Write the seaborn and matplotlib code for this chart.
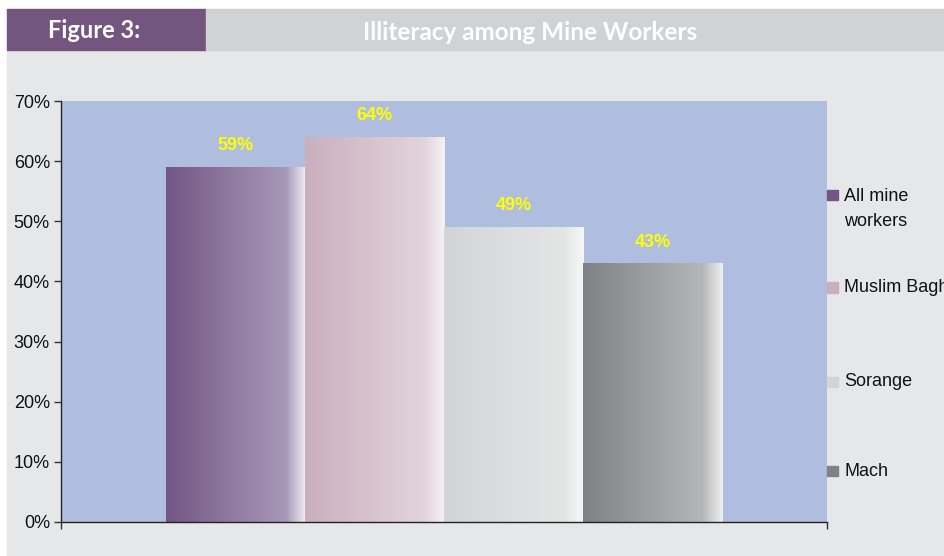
import matplotlib
matplotlib.use('Agg')
import matplotlib.pyplot as plt
from matplotlib.patches import Rectangle
from matplotlib.colors import LinearSegmentedColormap
import numpy as np
import pandas as pd
import seaborn as sns

# data
groups = ['All mine\nworkers', 'Muslim Bagh', 'Sorange', 'Mach']
values = [59, 64, 49, 43]
base_colors = ['#735685', '#CAAFBE', '#D3D4D6', '#808184']
mid_colors = ['#A898B8', '#E2D4DB', '#E4E6E6', '#B6B7B9']
end_colors = ['#F0EEF4', '#F7F3F5', '#F6F7F7', '#F0F0F0']
yticks = [0, 10, 20, 30, 40, 50, 60, 70]

df = pd.DataFrame({'grp': ['x'] * len(groups), 'cat': groups, 'val': values})

sns.set_style('white')
plt.rcParams['font.family'] = ['Liberation Sans', 'DejaVu Sans']

W, H = 945, 556
fig = plt.figure(figsize=(W / 100, H / 100), dpi=100)
fig.patch.set_facecolor('white')

def px(x0, y0, x1, y1, color):
    fig.patches.append(Rectangle((x0 / W, 1 - y1 / H), (x1 - x0) / W, (y1 - y0) / H,
                                 transform=fig.transFigure, color=color, zorder=-10))

# page background and header band
px(7, 50, W, H, '#E6E7E9')
px(7, 9, 206, 50, '#735580')
px(206, 9, W, 50, '#D1D2D4')
fig.text(94 / W, 1 - 30 / H, 'Figure 3:', color='white', fontsize=17, fontweight='bold',
         family=['Lato', 'DejaVu Sans'], ha='center', va='center')
fig.text(530 / W, 1 - 32 / H, 'Illiteracy among Mine Workers', color='white', fontsize=17.5,
         fontweight='bold', family=['Lato', 'DejaVu Sans'], ha='center', va='center')

ax = fig.add_axes([61 / W, 1 - 522 / H, (827 - 61) / W, (522 - 101) / H])
ax.set_zorder(1)
ax.set_facecolor('#AFBDDF')

sns.barplot(data=df, x='grp', y='val', hue='cat', palette=base_colors, width=0.727,
            gap=0, dodge=True, ax=ax, legend=False, saturation=1, linewidth=0)

# horizontal gradient on every bar, clipped to the bar itself
for p, c0, c1, c2 in zip(ax.patches, base_colors, mid_colors, end_colors):
    cmap = LinearSegmentedColormap.from_list('g', [(0, c0), (0.86, c1), (1, c2)])
    grad = np.linspace(0, 1, 256).reshape(1, -1)
    x0, y0 = p.get_x(), p.get_y()
    im = ax.imshow(grad, cmap=cmap, aspect='auto', interpolation='bilinear',
                   extent=[x0, x0 + p.get_width(), y0, y0 + p.get_height()], zorder=2)
    im.set_clip_path(p)

for p, v in zip(ax.patches, values):
    ax.text(p.get_x() + p.get_width() / 2, v + 3.55, f'{v}%', ha='center', va='center',
            color='#FFFF00', fontsize=13, fontweight='bold', zorder=3)

ax.set_xlim(-0.5, 0.5)
ax.set_ylim(0, 70)
ax.set_yticks(yticks)
ax.set_yticklabels([f'{t}%' for t in yticks], fontsize=13, color='#111111')
ax.set_xticks([-0.5, 0.5])
ax.set_xticklabels([])
ax.set_xlabel('')
ax.set_ylabel('')
ax.tick_params(axis='both', direction='out', length=5, width=1, color='#333333', pad=3)
ax.tick_params(axis='y', left=True)
ax.tick_params(axis='x', bottom=True)
for s in ['top', 'right']:
    ax.spines[s].set_visible(False)
for s in ['left', 'bottom']:
    ax.spines[s].set_color('#222222')
    ax.spines[s].set_linewidth(1)

# legend to the right of the plot, square aligned with the first text line
leg_y = [0.776, 0.557, 0.333, 0.121]   # axes fraction of each entry
for i, (lab, col, yy) in enumerate(zip(groups, base_colors, leg_y)):
    ax.add_patch(Rectangle((1.0005, yy - 0.012), 0.0135, 0.024, transform=ax.transAxes,
                           color=col, clip_on=False, zorder=3))
    if i == 0:
        ax.text(1.0225, yy + 0.018, lab, transform=ax.transAxes, ha='left', va='top',
                fontsize=13, color='#111111', linespacing=1.65, clip_on=False)
    else:
        ax.text(1.0225, yy, lab, transform=ax.transAxes, ha='left', va='center',
                fontsize=13, color='#111111', clip_on=False)

fig.savefig('out.png', dpi=100, facecolor=fig.get_facecolor())
